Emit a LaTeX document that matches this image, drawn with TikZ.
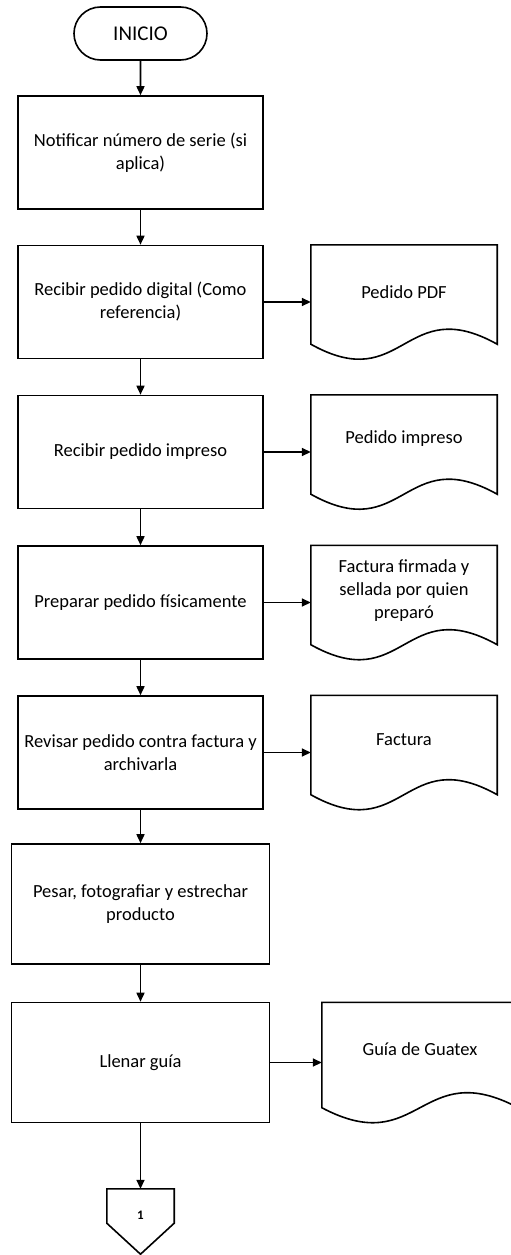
\documentclass[tikz,border=0pt]{standalone}
\usepackage{fontspec}
\setmainfont{Carlito}
\usetikzlibrary{arrows.meta,shapes.misc,calc}

\tikzset{
  stroke/.style={line width=1.6pt},
  flow/.style={stroke, -{Triangle[length=9pt,width=8pt]}},
  labelfont/.style={font=\fontsize{18.5}{23}\selectfont},
  procbox/.style={draw, stroke, rectangle, labelfont, align=center,
    minimum width=245pt, minimum height=113pt, inner sep=0pt},
  widebox/.style={procbox, minimum width=258pt, minimum height=120pt},
  docbox/.style={rectangle, minimum width=186pt, minimum height=114pt, inner sep=0pt},
  doctext/.style={labelfont, align=center, inner sep=0pt},
  outline/.style={draw, stroke, line join=miter},
  startbox/.style={draw, stroke, rounded rectangle, minimum width=133pt,
    minimum height=53pt, inner sep=0pt, font=\fontsize{21}{25}\selectfont},
  pageref/.style={rectangle, minimum width=67pt, minimum height=65pt, inner sep=0pt,
    font=\fontsize{13}{15}\selectfont\bfseries},
}

% wavy-bottom document outline around a docbox node
\newcommand\docoutline[1]{%
  \draw[outline] (#1.north west) -- (#1.north east) -- ([yshift=15pt]#1.south east)
    .. controls ([yshift=67pt]#1.south) and ([yshift=-37pt]#1.south)
    .. ([yshift=15pt]#1.south west) -- cycle;}

\begin{document}
\begin{tikzpicture}[x=1pt,y=-1pt]
  \fill[white] (0,0) rectangle (511,1255);
  \clip (0,0) rectangle (511,1255);

  % process column
  \node[startbox] (s) at (140.5,33.5) {INICIO};
  \node[procbox] (b1) at (140.5,152.5) {Notificar número de serie (si\\aplica)};
  \node[procbox] (b2) at (140.5,302) {Recibir pedido digital (Como\\referencia)};
  \node[procbox] (b3) at (140.5,452) {Recibir pedido impreso};
  \node[procbox] (b4) at (140.5,602.5) {Preparar pedido físicamente};
  \node[procbox] (b5) at (140.5,752.5) {Revisar pedido contra factura y\\archivarla};
  \node[widebox] (b6) at (140.5,904) {Pesar, fotografiar y estrechar\\producto};
  \node[widebox] (b7) at (140.5,1062.5) {Llenar guía};
  \node[pageref] (oc) at (140.5,1221.5) {};
  \node[pageref] (oct) at ([yshift=6pt]oc.center) {1};
  \draw[outline] (oc.north west) -- (oc.north east) -- ([yshift=31pt]oc.south east)
    -- (oc.south) -- ([yshift=31pt]oc.south west) -- cycle;

  % documents
  \node[docbox] (d1) at (404,302) {};
  \node[docbox] (d2) at (404,452) {};
  \node[docbox] (d3) at (404,602.5) {};
  \node[docbox] (d4) at (404,752.5) {};
  \node[docbox, minimum width=196pt, minimum height=120pt] (d5) at (420,1062.5) {};
  \docoutline{d1}
  \docoutline{d2}
  \docoutline{d3}
  \docoutline{d4}
  \docoutline{d5}
  \node[doctext] (d1t) at ([yshift=10pt]d1.center) {Pedido PDF};
  \node[doctext] (d2t) at ([yshift=13pt]d2.center) {Pedido impreso};
  \node[doctext] (d3t) at ([yshift=12pt]d3.center) {Factura firmada y\\sellada por quien\\preparó};
  \node[doctext] (d4t) at ([yshift=13pt]d4.center) {Factura};
  \node[doctext] (d5t) at ([yshift=13pt]d5.center) {Guía de Guatex};

  % connectors
  \draw[flow] (s) -- (b1);
  \draw[flow] (b1) -- (b2);
  \draw[flow] (b2) -- (b3);
  \draw[flow] (b3) -- (b4);
  \draw[flow] (b4) -- (b5);
  \draw[flow] (b5) -- (b6);
  \draw[flow] (b6) -- (b7);
  \draw[flow] (b7) -- (oc);
  \draw[flow] (b2) -- (d1);
  \draw[flow] (b3) -- (d2);
  \draw[flow] (b4) -- (d3);
  \draw[flow] (b5) -- (d4);
  \draw[flow] (b7) -- (d5);
\end{tikzpicture}
\end{document}
